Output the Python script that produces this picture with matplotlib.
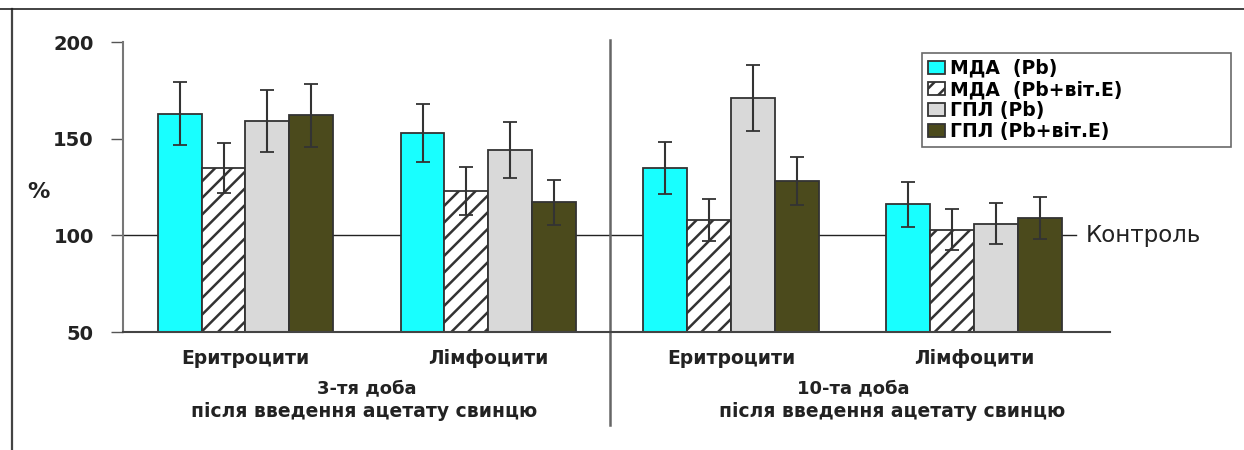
import numpy as np
import matplotlib.pyplot as plt
from matplotlib.lines import Line2D

# data
groups = ['Еритроцити', 'Лімфоцити', 'Еритроцити', 'Лімфоцити']
series = ['МДА  (Pb)', 'МДА  (Pb+віт.Е)', 'ГПЛ (Pb)', 'ГПЛ (Pb+віт.Е)']
mda_pb = [163, 153, 135, 116]
mda_pb_e = [135, 123, 108, 103]
gpl_pb = [159, 144, 171, 106]
gpl_pb_e = [162, 117, 128, 109]
err_mda_pb = [16.5, 15, 13.5, 11.5]
err_mda_pb_e = [13, 12.5, 11, 10.5]
err_gpl_pb = [16, 14.5, 17, 10.5]
err_gpl_pb_e = [16.5, 11.5, 12.5, 11]
periods = ['3-тя доба', '10-та доба']
subtitle = 'після введення ацетату свинцю'

values = [mda_pb, mda_pb_e, gpl_pb, gpl_pb_e]
errors = [err_mda_pb, err_mda_pb_e, err_gpl_pb, err_gpl_pb_e]
colors = ['#18ffff', 'white', '#d9d9d9', '#4b4a1c']
hatches = [None, '//', None, None]

plt.rcParams['hatch.linewidth'] = 1.8
plt.rcParams['font.family'] = 'DejaVu Sans'

fig = plt.figure(figsize=(12.44, 4.5), dpi=100)
ax = fig.add_axes([0.0989, 0.2622, 0.7934, 0.6444])

x = np.arange(len(groups))
w = 0.181

ax.plot([-0.504, 3.42], [100, 100], color='#222222', lw=1, zorder=0, clip_on=False)

for i in range(4):
    ax.bar(x + (i - 1.5) * w, values[i], w, bottom=0, color=colors[i],
           edgecolor='#333333', linewidth=1.3, hatch=hatches[i],
           label=series[i], zorder=2)
    ax.errorbar(x + (i - 1.5) * w, values[i], yerr=errors[i], fmt='none',
                ecolor='#333333', elinewidth=1.5, capsize=5, capthick=1.3,
                zorder=3)

ax.set_xlim(-0.504, 3.558)
ax.set_ylim(50, 200)
ax.set_yticks([50, 100, 150, 200])
ax.tick_params(axis='y', length=9, width=1, color='#555555', pad=12,
               labelsize=14)
for lab in ax.get_yticklabels():
    lab.set_fontweight('bold')
    lab.set_color('#222222')
ax.set_xticks(x)
ax.set_xticklabels(groups, fontsize=13.5, fontweight='bold', color='#222222')
ax.tick_params(axis='x', length=0, pad=12)

for s in ['top', 'right']:
    ax.spines[s].set_visible(False)
ax.spines['left'].set_color('#777777')
ax.spines['left'].set_linewidth(1.5)
ax.spines['bottom'].set_color('#444444')
ax.spines['bottom'].set_linewidth(1.5)

# vertical separator between the two periods
ax.plot([1.5, 1.5], [201, 2], color='#666666', lw=1.8, clip_on=False, zorder=1)

ax.text(3.46, 100, 'Контроль', fontsize=16.5, va='center', ha='left',
        color='#222222')
fig.text(0.022, 0.573, '%', fontsize=16, fontweight='bold', color='#222222',
         va='center')

for k, p in enumerate(periods):
    ax.text(0.5 + 2 * k, 21, p, fontsize=13, fontweight='bold',
            ha='center', va='center', color='#222222')
ax.text(0.49, 9, subtitle, fontsize=13.5, fontweight='bold',
        ha='center', va='center', color='#222222')
ax.text(2.66, 9, subtitle, fontsize=13.5, fontweight='bold',
        ha='center', va='center', color='#222222')

leg = ax.legend(loc='upper left', bbox_to_anchor=(0.7412, 0.682, 0.2484, 0.2),
                bbox_transform=fig.transFigure, mode='expand', frameon=True,
                fancybox=False, edgecolor='#444444', handlelength=0.9,
                handleheight=0.7, handletextpad=0.3, labelspacing=0.12,
                borderpad=0.3, borderaxespad=0,
                prop={'size': 13.5, 'weight': 'bold'})
leg.get_frame().set_linewidth(1.2)

# outer frame lines
fig.add_artist(Line2D([0.0096, 0.0096], [0, 0.98], color='#444444', lw=1.6))
fig.add_artist(Line2D([0.0, 1.0], [0.98, 0.98], color='#222222', lw=1.2))

plt.savefig('out.png')
